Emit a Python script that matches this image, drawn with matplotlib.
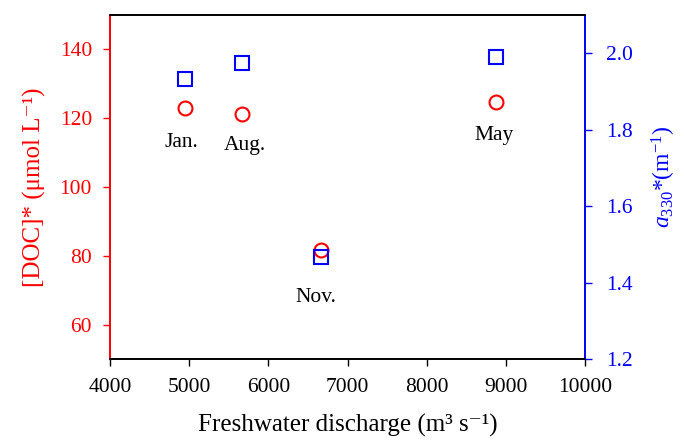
import matplotlib
matplotlib.use("Agg")
import matplotlib.pyplot as plt

plt.rcParams["font.family"] = ["Liberation Serif", "DejaVu Serif"]
plt.rcParams["mathtext.fontset"] = "custom"
plt.rcParams["mathtext.rm"] = "Liberation Serif"
plt.rcParams["mathtext.it"] = "Liberation Serif:italic"

# data
months = ["Jan.", "Aug.", "Nov.", "May"]
discharge = [4950, 5670, 6660, 8870]
doc = [123.0, 121.3, 81.8, 124.8]
a330 = [1.932, 1.974, 1.468, 1.991]
label_x = [4900, 5700, 6600, 8850]
label_y = [113, 112, 68, 115]

fig = plt.figure(figsize=(6.85, 4.44), dpi=100)
ax = fig.add_axes([0.1606, 0.1914, 0.6934, 0.7748])
ax2 = ax.twinx()

ax.plot(discharge, doc, ls="none", marker="o", markersize=10,
        markerfacecolor="none", markeredgecolor="red", markeredgewidth=1.5)
ax2.plot(discharge, a330, ls="none", marker="s", markersize=9.5,
         markerfacecolor="none", markeredgecolor="blue", markeredgewidth=1.5)

for name, x, y in zip(months, label_x, label_y):
    ax.text(x, y, name, fontsize=15.5, ha="center", va="center")

ax.set_xlim(4000, 10000)
ax.set_ylim(50, 150)
ax2.set_ylim(1.2, 2.1)
ax.set_xticks(range(4000, 10001, 1000))
ax.set_yticks([60, 80, 100, 120, 140])
ax2.set_yticks([1.2, 1.4, 1.6, 1.8, 2.0])
ax2.set_yticklabels(["1.2", "1.4", "1.6", "1.8", "2.0"])

ax.tick_params(axis="x", direction="out", length=5, width=1, labelsize=15.5, pad=9)
ax.tick_params(axis="y", direction="out", length=5, width=1, labelsize=15.5,
               colors="red", pad=8)
ax2.tick_params(axis="y", direction="out", length=5, width=1, labelsize=15.5,
                colors="blue", pad=10)

for a in (ax, ax2):
    for s in a.spines.values():
        s.set_linewidth(1.2)
    a.spines["left"].set_color("red")
    a.spines["right"].set_color("blue")

ax.set_xlabel("Freshwater discharge (m³ s⁻¹)", fontsize=18, labelpad=12)
ax.set_ylabel("[DOC]* (μmol L⁻¹)", fontsize=18, color="red", labelpad=10)
ax2.set_ylabel("$\\mathit{a}_{330}$*(m$^{-1}$)", fontsize=17, color="blue",
               rotation=90)
ax2.yaxis.set_label_coords(1.137, 0.529)

fig.savefig("out.png", dpi=100)
